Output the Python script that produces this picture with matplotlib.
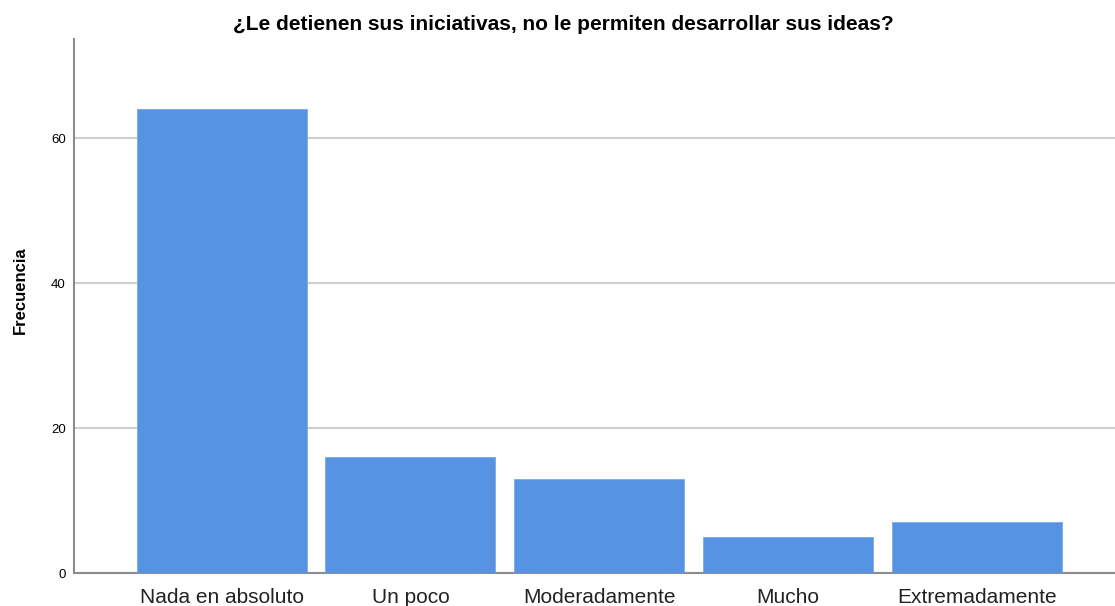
import matplotlib.pyplot as plt

categories = ['Nada en absoluto', 'Un poco', 'Moderadamente', 'Mucho', 'Extremadamente']
frecuencia = [64, 16, 13, 5, 7]
yticks = [0, 20, 40, 60]

plt.rcParams['font.family'] = ['Liberation Sans', 'DejaVu Sans']

fig = plt.figure(figsize=(11.15, 6.06), dpi=100)
ax = fig.add_axes([74 / 1115, 33 / 606, 1 - 74 / 1115, 534 / 606])

x = range(len(categories))
ax.bar(x, frecuencia, width=0.9, color='#5694e3', edgecolor='#7aaae8', linewidth=0.6, zorder=3)

ax.set_xlim(-0.781, 4.73)
ax.set_ylim(0, 73.66)
ax.set_yticks(yticks)
ax.set_xticks(list(x))
ax.set_xticklabels(categories, fontsize=15, color='#222222')
ax.tick_params(axis='y', length=0, labelsize=9.5, pad=6)
ax.tick_params(axis='x', length=0, pad=11)
ax.yaxis.grid(True, color='#cfcfcf', linewidth=1.5, zorder=0)

for side in ['top', 'right']:
    ax.spines[side].set_visible(False)
ax.spines['left'].set_color('#8c8c8c')
ax.spines['bottom'].set_color('#8c8c8c')
ax.spines['left'].set_linewidth(1.5)
ax.spines['bottom'].set_linewidth(1.5)

ax.set_ylabel('Frecuencia', fontsize=12, fontweight='bold')
ax.yaxis.set_label_coords(-0.044, 0.53)
fig.text(0.505, 0.959, '¿Le detienen sus iniciativas, no le permiten desarrollar sus ideas?',
         ha='center', va='center', fontsize=15, fontweight='bold')

fig.savefig('out.png', dpi=100)
